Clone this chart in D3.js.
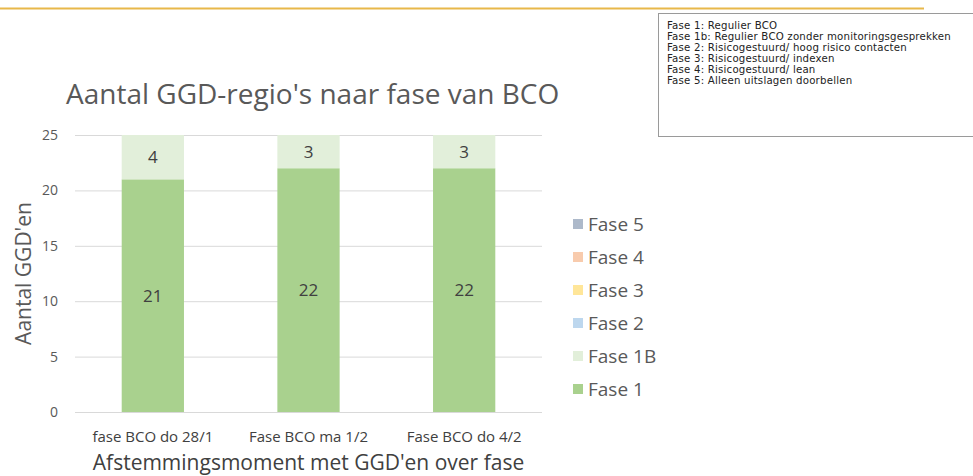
<!DOCTYPE html>
<html>
<head>
<meta charset="utf-8">
<script src="https://cdn.jsdelivr.net/npm/d3@7"></script>
<style>
  body { margin: 0; background: #fff; }
  svg text { font-family: "Open Sans", sans-serif; fill: #595959; }
  .note text { font-family: "DejaVu Sans", Verdana, sans-serif; fill: #222; }
</style>
</head>
<body>
<div id="chart"></div>
<script>

var categories = ["fase BCO do 28/1", "Fase BCO ma 1/2", "Fase BCO do 4/2"];
var fase1  = [21, 22, 22];
var fase1b = [4, 3, 3];
var fase2  = [0, 0, 0];
var fase3  = [0, 0, 0];
var fase4  = [0, 0, 0];
var fase5  = [0, 0, 0];
var seriesNames = ["Fase 1", "Fase 1B", "Fase 2", "Fase 3", "Fase 4", "Fase 5"];
var seriesColors = ["#a9d18e", "#e2efda", "#bdd7ee", "#ffe699", "#f8cbad", "#adb9ca"];
var yTicks = [0, 5, 10, 15, 20, 25];
var noteLines = [
  "Fase 1: Regulier BCO",
  "Fase 1b: Regulier BCO zonder monitoringsgesprekken",
  "Fase 2: Risicogestuurd/ hoog risico contacten",
  "Fase 3: Risicogestuurd/ indexen",
  "Fase 4: Risicogestuurd/ lean",
  "Fase 5: Alleen uitslagen doorbellen"
];

var W = 973, H = 476;
var margin = {top: 135, right: 431, bottom: 64, left: 75},
    width = W - margin.left - margin.right,
    height = H - margin.top - margin.bottom;

var root = d3.select("#chart")
  .append("svg")
    .attr("width", W)
    .attr("height", H);

// orange rule at the top of the slide
root.append("line")
    .attr("x1", 0).attr("x2", 924)
    .attr("y1", 8.5).attr("y2", 8.5)
    .style("stroke", "#e8b84a")
    .style("stroke-width", 2);

// explanation box top right
var note = root.append("g").attr("class", "note");
note.append("rect")
    .attr("x", 658.5).attr("y", 13.5)
    .attr("width", 360).attr("height", 123)
    .style("fill", "#fff")
    .style("stroke", "#9a9a9a");
note.selectAll("text")
  .data(noteLines)
  .enter()
  .append("text")
    .attr("x", 667)
    .attr("y", function(d, i) { return 28.5 + i * 11; })
    .style("font-size", "10.2px")
    .style("letter-spacing", "0.2px")
    .text(function(d) { return d; });

var svg = root.append("g")
    .attr("transform", "translate(" + margin.left + "," + margin.top + ")");

var x = d3.scaleBand()
    .domain(categories)
    .range([0, width])
    .paddingInner(0.6)
    .paddingOuter(0.3);

var y = d3.scaleLinear()
    .domain([0, 25])
    .range([height, 0]);

// gridlines
svg.append("g")
    .call(d3.axisLeft(y).tickValues(yTicks).tickSize(-width).tickFormat(""))
    .call(function(g) { g.select(".domain").remove(); })
    .selectAll("line")
    .style("stroke", "#d9d9d9");

svg.append("g")
    .call(d3.axisLeft(y).tickValues(yTicks).tickSize(0).tickPadding(17))
    .call(function(g) { g.select(".domain").remove(); })
    .selectAll("text")
    .style("font-size", "14px")
    .style("fill", "#595959");

var table = categories.map(function(c, i) {
  return {cat: c, "Fase 1": fase1[i], "Fase 1B": fase1b[i], "Fase 2": fase2[i],
          "Fase 3": fase3[i], "Fase 4": fase4[i], "Fase 5": fase5[i]};
});
var stacked = d3.stack().keys(seriesNames)(table);

var layers = svg.selectAll(".layer")
  .data(stacked)
  .enter()
  .append("g")
    .attr("class", "layer")
    .style("fill", function(d, i) { return seriesColors[i]; });

layers.selectAll("rect")
  .data(function(d) { return d; })
  .enter()
  .append("rect")
    .attr("x", function(d) { return x(d.data.cat); })
    .attr("y", function(d) { return y(d[1]); })
    .attr("width", x.bandwidth())
    .attr("height", function(d) { return y(d[0]) - y(d[1]); });

layers.selectAll("text")
  .data(function(d) { return d.filter(function(p) { return p[1] - p[0] > 0; }); })
  .enter()
  .append("text")
    .attr("x", function(d) { return x(d.data.cat) + x.bandwidth() / 2; })
    .attr("y", function(d) { return y((d[0] + d[1]) / 2); })
    .attr("dy", "0.35em")
    .attr("text-anchor", "middle")
    .style("font-size", "17px")
    .style("fill", "#404040")
    .text(function(d) { return d[1] - d[0]; });

// baseline
svg.append("line")
    .attr("x1", 0).attr("x2", width)
    .attr("y1", height + 0.5).attr("y2", height + 0.5)
    .style("stroke", "#d9d9d9");

svg.append("g")
    .attr("transform", "translate(0," + height + ")")
    .call(d3.axisBottom(x).tickSize(0).tickPadding(19))
    .call(function(g) { g.select(".domain").remove(); })
    .selectAll("text")
    .style("font-size", "15px")
    .style("fill", "#404040");

svg.append("text")
    .attr("x", width / 2)
    .attr("y", height + 58)
    .attr("text-anchor", "middle")
    .style("font-size", "21px")
    .style("fill", "#404040")
    .text("Afstemmingsmoment met GGD'en over fase");

svg.append("text")
    .attr("transform", "translate(-44," + (height / 2) + ") rotate(-90)")
    .attr("text-anchor", "middle")
    .style("font-size", "21px")
    .text("Aantal GGD'en");

root.append("text")
    .attr("x", 66)
    .attr("y", 104)
    .style("font-size", "28px")
    .text("Aantal GGD-regio's naar fase van BCO");

// legend, top item is Fase 5
var legendItems = seriesNames.map(function(n, i) { return {name: n, color: seriesColors[i]}; }).reverse();
var legend = root.selectAll(".legend")
  .data(legendItems)
  .enter()
  .append("g")
    .attr("class", "legend")
    .attr("transform", function(d, i) { return "translate(573," + (224 + i * 33) + ")"; });
legend.append("rect")
    .attr("x", 0).attr("y", -5)
    .attr("width", 10).attr("height", 10)
    .style("fill", function(d) { return d.color; });
legend.append("text")
    .attr("x", 15)
    .attr("dy", "0.35em")
    .style("font-size", "19px")
    .style("fill", "#595959")
    .text(function(d) { return d.name; });

</script>
</body>
</html>
